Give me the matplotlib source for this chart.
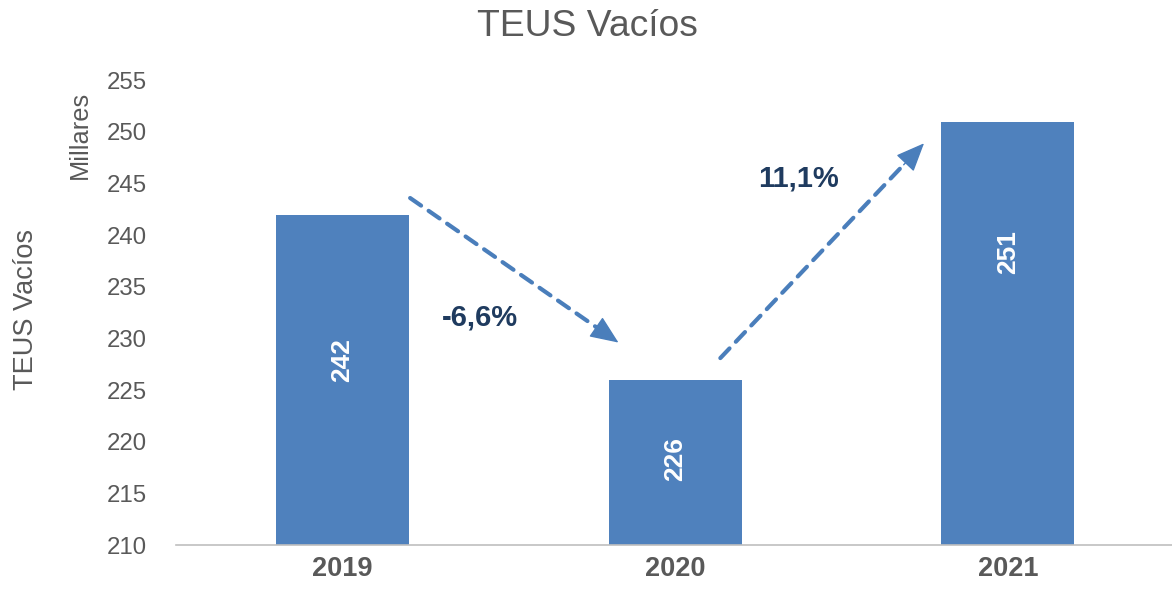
import matplotlib
matplotlib.use("Agg")
import matplotlib.pyplot as plt

plt.rcParams['font.family'] = ['Liberation Sans', 'DejaVu Sans']

years = ["2019", "2020", "2021"]
values = [242, 226, 251]
value_labels = ["242", "226", "251"]
changes = ["-6,6%", "11,1%"]
yticks = [210, 215, 220, 225, 230, 235, 240, 245, 250, 255]

bar_color = "#4F81BD"
arrow_color = "#4A7EBB"
gray = "#595959"

fig = plt.figure(figsize=(11.72, 5.89), dpi=100)
ax = fig.add_axes([0.150, 0.0747, 0.852, 0.789])

x = list(range(len(years)))
ax.bar(x, values, width=0.4, color=bar_color, zorder=2)
ax.set_xlim(-0.5, 2.5)
ax.set_ylim(210, 255)
ax.set_yticks(yticks)
ax.set_yticklabels([str(t) for t in yticks], fontsize=17.3, color=gray)
ax.set_xticks(x)
ax.set_xticklabels(years, fontsize=19.5, fontweight='bold', color=gray)
ax.tick_params(axis='both', length=0)
ax.tick_params(axis='y', pad=21)
ax.tick_params(axis='x', pad=8)
for s in ['top', 'right', 'left']:
    ax.spines[s].set_visible(False)
ax.spines['bottom'].set_color('#BFBFBF')
ax.spines['bottom'].set_linewidth(1.2)

# value labels (Excel-like placement inside bars)
label_y = [227.9, 218.3, 238.4]
for xi, ly, lab in zip(x, label_y, value_labels):
    ax.text(xi, ly, lab, rotation=90, ha='center', va='center',
            color='white', fontsize=19, fontweight='bold', zorder=3)


def dashed_arrow(start, end):
    sx, sy = start
    ex, ey = end
    f = 0.90
    mx, my = sx + f * (ex - sx), sy + f * (ey - sy)
    ax.annotate('', xy=(mx, my), xytext=(sx, sy),
                arrowprops=dict(arrowstyle='-', color=arrow_color, lw=3.0,
                                linestyle=(0, (3.2, 2.2)), shrinkA=0, shrinkB=0),
                zorder=4)
    ax.annotate('', xy=(ex, ey), xytext=(mx, my),
                arrowprops=dict(arrowstyle='-|>,head_length=0.9,head_width=0.38',
                                mutation_scale=20, fc=arrow_color, ec=arrow_color,
                                lw=1.0, shrinkA=0, shrinkB=0),
                zorder=4)


dashed_arrow((0.204, 243.6), (0.830, 229.6))
dashed_arrow((1.136, 228.1), (1.748, 248.9))

ax.text(0.414, 232.0, changes[0], ha='center', va='center', fontsize=21,
        fontweight='bold', color='#1F3B5F')
ax.text(1.371, 245.5, changes[1], ha='center', va='center', fontsize=21,
        fontweight='bold', color='#1F3B5F')

fig.text(0.501, 0.955, "TEUS Vacíos", ha='center', va='center', fontsize=26.8, color=gray)
fig.text(0.022, 0.475, "TEUS Vacíos", rotation=90, ha='center', va='center', fontsize=19.5, color=gray)
fig.text(0.068, 0.771, "Millares", rotation=90, ha='center', va='center', fontsize=18.3, color=gray)

fig.savefig("out.png", dpi=100)
